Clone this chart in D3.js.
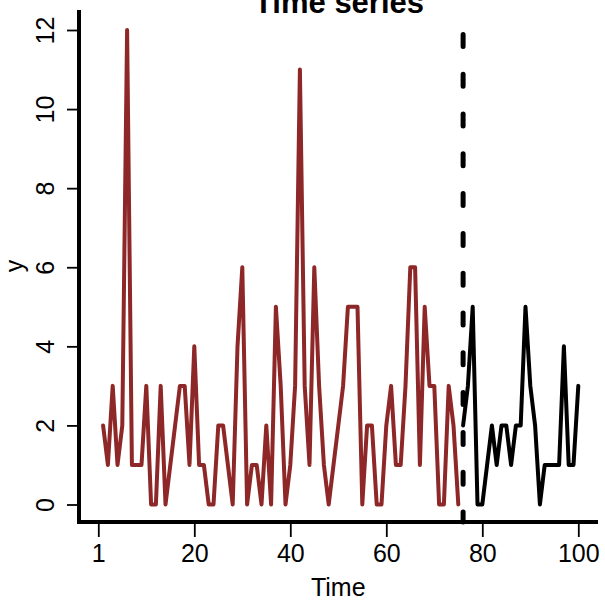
<!DOCTYPE html>
<html>
<head>
<meta charset="utf-8">
<script src="https://cdn.jsdelivr.net/npm/d3@7/dist/d3.min.js"></script>
<style>
  body { margin: 0; background: #fff; }
  svg { display: block; font-family: "Liberation Sans", Arial, sans-serif; }
</style>
</head>
<body>
<div id="chart"></div>
<script>
// observed counts, time 1..75 (red) and 76..100 (black)
const trainStart = 1;
const trainValues = [2, 1, 3, 1, 2, 12, 1, 1, 1, 3,
  0, 0, 3, 0, 1, 2, 3, 3, 1, 4,
  1, 1, 0, 0, 2, 2, 1, 0, 4, 6,
  0, 1, 1, 0, 2, 0, 5, 3, 0, 1,
  3, 11, 3, 1, 6, 3, 1, 0, 1, 2,
  3, 5, 5, 5, 0, 2, 2, 0, 0, 2,
  3, 1, 1, 3, 6, 6, 1, 5, 3, 3,
  0, 0, 3, 2, 0];
const testStart = 76;
const testValues = [2, 3, 5, 0, 0, 1, 2, 1, 2, 2,
  1, 2, 2, 5, 3, 2, 0, 1, 1, 1,
  1, 4, 1, 1, 3];
const splitTime = 76;

const xTickValues = [0, 20, 40, 60, 80, 100];
const xTickLabels = ['1', '20', '40', '60', '80', '100'];
const yTickValues = [0, 2, 4, 6, 8, 10, 12];

const width = 605;
const height = 605;
const frame = { left: 79, right: 598, top: 10, bottom: 522 };

const svg = d3.select('#chart')
  .append('svg')
  .attr('width', width)
  .attr('height', height);

const x = d3.scaleLinear().domain([0, 100]).range([98.3, 578.3]);
const y = d3.scaleLinear().domain([0, 12]).range([504.5, 30]);

const toPoints = (vals, start) => vals.map((v, i) => [start + i, v]);
const line = d3.line().x(d => x(d[0])).y(d => y(d[1]));

// series
svg.append('path')
  .datum(toPoints(trainValues, trainStart))
  .attr('d', line)
  .attr('fill', 'none')
  .attr('stroke', '#8e2727')
  .attr('stroke-width', 4)
  .attr('stroke-linejoin', 'round')
  .attr('stroke-linecap', 'round');

svg.append('path')
  .datum(toPoints(testValues, testStart))
  .attr('d', line)
  .attr('fill', 'none')
  .attr('stroke', '#000')
  .attr('stroke-width', 4)
  .attr('stroke-linejoin', 'round')
  .attr('stroke-linecap', 'round');

// split marker, drawn upward from the bottom of the plot region
svg.append('line')
  .attr('x1', x(splitTime))
  .attr('x2', x(splitTime))
  .attr('y1', frame.bottom)
  .attr('y2', frame.top)
  .attr('stroke', '#000')
  .attr('stroke-width', 5)
  .attr('stroke-linecap', 'round')
  .attr('stroke-dasharray', '12 27.8')
  .attr('stroke-dashoffset', 2);

// axes
const xAxis = d3.axisBottom(x)
  .tickValues(xTickValues)
  .tickFormat((d, i) => xTickLabels[i])
  .tickSize(15)
  .tickSizeOuter(0);

const gx = svg.append('g')
  .attr('transform', `translate(0,${frame.bottom})`)
  .call(xAxis);
gx.select('.domain').remove();
gx.selectAll('.tick line').attr('stroke', '#000').attr('stroke-width', 1.8);
gx.selectAll('.tick text')
  .attr('y', 40)
  .attr('dy', 0)
  .attr('fill', '#000')
  .style('font-size', '25px');

const yAxis = d3.axisLeft(y)
  .tickValues(yTickValues)
  .tickSize(12)
  .tickSizeOuter(0);

const gy = svg.append('g')
  .attr('transform', `translate(${frame.left},0)`)
  .call(yAxis);
gy.select('.domain').remove();
gy.selectAll('.tick line').attr('stroke', '#000').attr('stroke-width', 1.8);
gy.selectAll('.tick text')
  .attr('x', 0)
  .attr('dy', 0)
  .attr('text-anchor', 'middle')
  .attr('transform', 'translate(-25,0) rotate(-90)')
  .attr('fill', '#000')
  .style('font-size', '25px');

// L frame
svg.append('path')
  .attr('d', `M${frame.left},${frame.top}V${frame.bottom}H${frame.right}`)
  .attr('fill', 'none')
  .attr('stroke', '#000')
  .attr('stroke-width', 4)
  .attr('stroke-linejoin', 'miter');

// labels
svg.append('text')
  .attr('x', 339)
  .attr('y', 13)
  .attr('text-anchor', 'middle')
  .style('font-size', '31px')
  .style('font-weight', 'bold')
  .text('Time series');

svg.append('text')
  .attr('x', x(50))
  .attr('y', 596)
  .attr('text-anchor', 'middle')
  .style('font-size', '25px')
  .text('Time');

svg.append('text')
  .attr('transform', `translate(23,${(frame.top + frame.bottom) / 2}) rotate(-90)`)
  .attr('text-anchor', 'middle')
  .style('font-size', '25px')
  .text('y');
</script>
</body>
</html>
